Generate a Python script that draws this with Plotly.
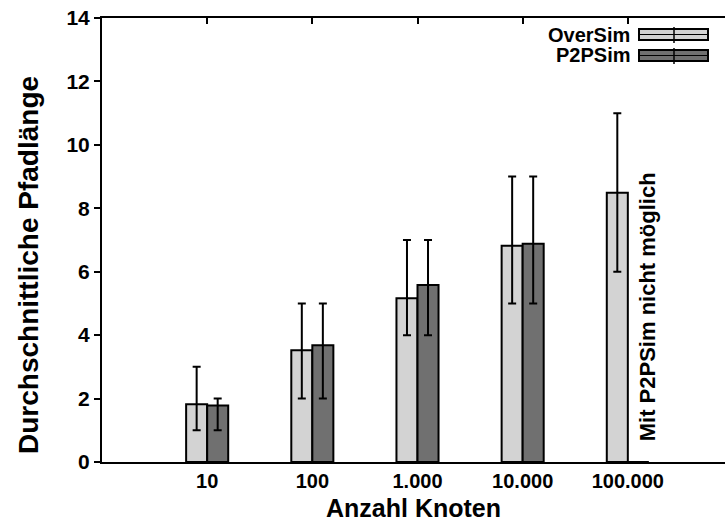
import plotly.graph_objects as go

# ---- data ----
categories = ["10", "100", "1.000", "10.000", "100.000"]
oversim_mean = [1.82, 3.52, 5.16, 6.82, 8.49]
oversim_low = [1.0, 2.0, 4.0, 5.0, 6.0]
oversim_high = [3.0, 5.0, 7.0, 9.0, 11.0]
p2psim_mean = [1.78, 3.68, 5.58, 6.88, 0.0]
p2psim_low = [1.0, 2.0, 4.0, 5.0, 0.0]
p2psim_high = [2.0, 5.0, 7.0, 9.0, 0.0]
series_names = ["OverSim", "P2PSim"]
series_colors = ["#d3d3d3", "#707070"]
y_ticks = [0, 2, 4, 6, 8, 10, 12, 14]
x_title = "Anzahl Knoten"
y_title = "Durchschnittliche Pfadlänge"
note_text = "Mit P2PSim nicht möglich"

W, H = 725, 526
ML, MR, MT, MB = 102, 0, 18, 64
FONT = "Liberation Sans"

def px(x):  # pixel -> paper x
    return (x - ML) / (W - ML - MR)

def py(y):  # pixel -> paper y
    return (H - MB - y) / (H - MT - MB)

def b(s):
    return "<b>" + s + "</b>"

fig = go.Figure()
for name, col, m, lo, hi in [
    (series_names[0], series_colors[0], oversim_mean, oversim_low, oversim_high),
    (series_names[1], series_colors[1], p2psim_mean, p2psim_low, p2psim_high),
]:
    fig.add_trace(go.Bar(
        x=categories, y=m, name=name,
        marker=dict(color=col, line=dict(color="black", width=2)),
        error_y=dict(type="data", symmetric=False,
                     array=[h - v for h, v in zip(hi, m)],
                     arrayminus=[v - l for v, l in zip(m, lo)],
                     color="black", thickness=2, width=4),
        showlegend=False,
    ))

# invisible trace for top mirrored ticks
fig.add_trace(go.Scatter(x=[0], y=[0], xaxis="x2", mode="markers",
                         marker=dict(opacity=0), showlegend=False, hoverinfo="skip"))

n = len(categories)
fig.update_layout(
    width=W, height=H,
    margin=dict(l=ML, r=MR, t=MT, b=MB),
    paper_bgcolor="white", plot_bgcolor="white",
    barmode="group", bargap=0.6, bargroupgap=0.0,
    font=dict(family=FONT, size=20, color="black"),
    xaxis=dict(
        type="category", range=[-1, 4.924],
        tickvals=categories, ticktext=[b(c) for c in categories],
        showline=True, linecolor="black", linewidth=2, mirror=True,
        ticks="", showgrid=False, zeroline=False,
        tickfont=dict(size=20, family=FONT),
        title=dict(text=b(x_title), standoff=8,
                   font=dict(size=25, family=FONT)),
    ),
    xaxis2=dict(
        overlaying="x", side="top", range=[-1, 4.924],
        tickvals=list(range(n)), showticklabels=False,
        ticks="inside", ticklen=6, tickwidth=1.5, tickcolor="black",
        showline=False, showgrid=False, zeroline=False,
    ),
    yaxis=dict(
        range=[0, 14], tickvals=y_ticks, ticktext=[b(str(v)) for v in y_ticks],
        showline=True, linecolor="black", linewidth=2, mirror=False,
        ticks="outside", ticklen=6, tickwidth=1.5, tickcolor="black",
        showgrid=False, zeroline=False,
        tickfont=dict(size=21, family=FONT),
    ),
)

# y-axis title (placed as in the reference, slightly below centre)
fig.add_annotation(xref="paper", yref="paper", x=px(28), y=py(265), text=b(y_title),
                   textangle=-90, showarrow=False, xanchor="center", yanchor="middle",
                   font=dict(size=28, family=FONT, color="black"))

# note for missing P2PSim value
fig.add_annotation(x=4.19, y=0.6, xref="x", yref="y", text=b(note_text),
                   textangle=-90, showarrow=False, xanchor="center", yanchor="bottom",
                   font=dict(size=22, family=FONT, color="black"))

# custom gnuplot-style legend
legend_rows = [(29, 40), (50, 61)]
for (top, bot), name, col in zip(legend_rows, series_names, series_colors):
    fig.add_shape(type="rect", xref="paper", yref="paper",
                  x0=px(639), x1=px(708), y0=py(bot), y1=py(top),
                  fillcolor=col, line=dict(color="black", width=2))
    mid = (top + bot) / 2
    fig.add_shape(type="line", xref="paper", yref="paper",
                  x0=px(639), x1=px(708), y0=py(mid), y1=py(mid),
                  line=dict(color="black", width=1))
    fig.add_shape(type="line", xref="paper", yref="paper",
                  x0=px(674), x1=px(674), y0=py(bot + 3), y1=py(top - 2),
                  line=dict(color="black", width=1.5))
    fig.add_annotation(xref="paper", yref="paper", x=px(632), y=py(mid),
                       text=b(name), showarrow=False, xanchor="right", yanchor="middle",
                       font=dict(size=20, family=FONT, color="black"))

fig.write_html("out.html")
